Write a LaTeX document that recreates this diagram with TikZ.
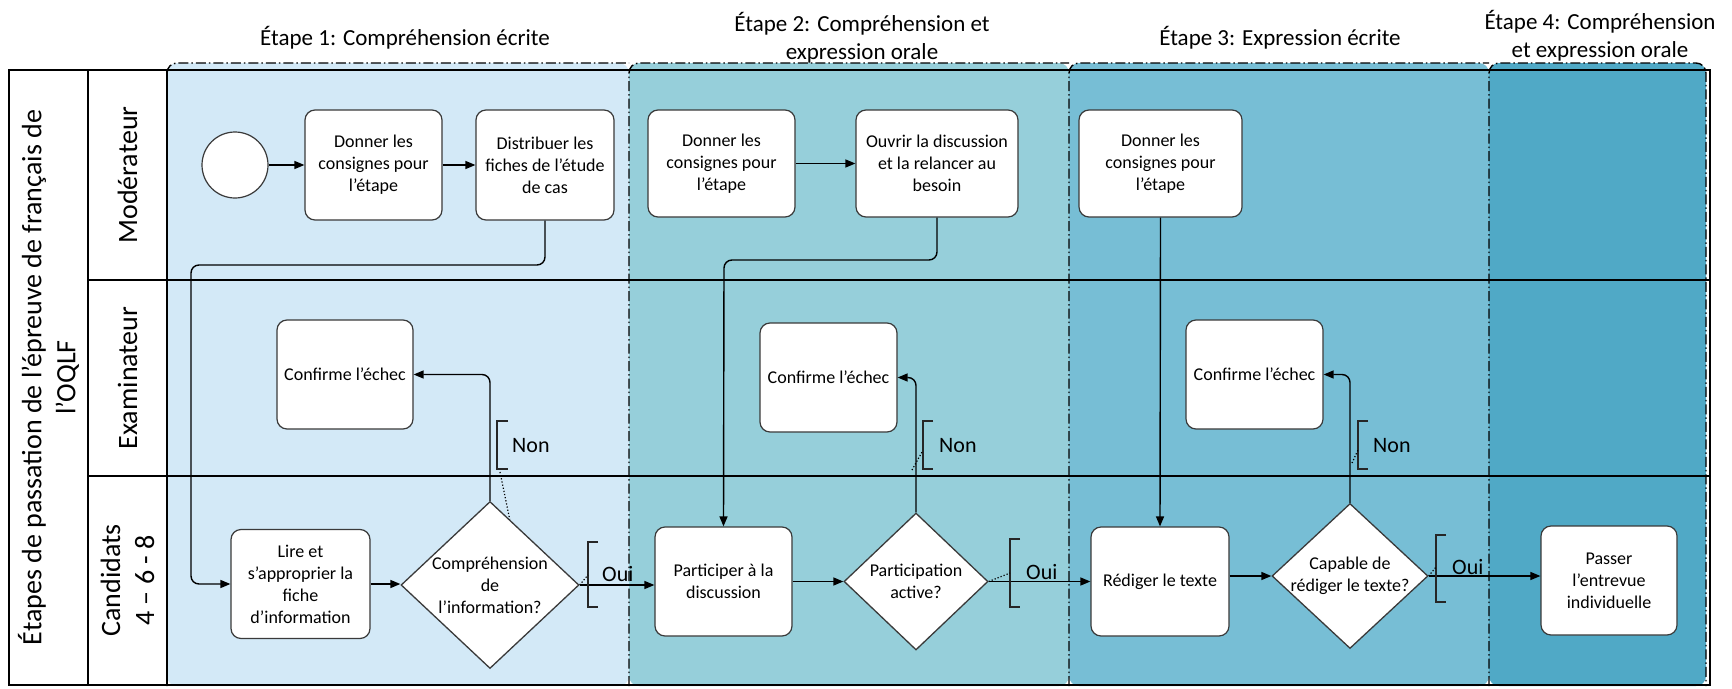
\documentclass[tikz,border=0pt]{standalone}
\usepackage{fontspec}
\setmainfont{Carlito}
\usetikzlibrary{arrows.meta,shapes.geometric,calc}
\definecolor{stA}{HTML}{D3E9F7}
\definecolor{stB}{HTML}{96CFDA}
\definecolor{stC}{HTML}{77BED5}
\definecolor{stD}{HTML}{50A9C6}
\definecolor{edgegray}{HTML}{3A3A3A}
\begin{document}
\begin{tikzpicture}[x=1pt,y=-1pt,
  stagebg/.style={rounded corners=10pt},
  stageline/.style={draw=black, line width=1.4pt, dash pattern=on 10pt off 3pt on 1.5pt off 3pt, rounded corners=10pt},
  frameline/.style={line width=2pt, draw=black},
  task/.style={draw=edgegray, line width=1.2pt, fill=white, rounded corners=10pt, align=center, inner sep=2pt, text=black, font=\fontsize{18pt}{22pt}\selectfont},
  gate/.style={draw=edgegray, line width=1.3pt, fill=white, shape=diamond, inner sep=0pt},
  gatetxt/.style={align=center, text=black, font=\fontsize{18pt}{22pt}\selectfont},
  flow/.style={line width=1.4pt, -{Triangle[length=10pt,width=8pt]}, rounded corners=8pt},
  ann/.style={line width=1.4pt, draw=black!85},
  assoc/.style={line width=1.2pt, dotted},
  lbl/.style={anchor=west, inner sep=0pt, font=\fontsize{22pt}{26pt}\selectfont},
  lane/.style={rotate=90, align=center, font=\fontsize{28pt}{34pt}\selectfont},
  stitle/.style={align=center, font=\fontsize{23pt}{28pt}\selectfont}
]
\useasboundingbox (0,0) rectangle (1732,688);

% stage backgrounds
\fill[stA, stagebg] (167,63) rectangle (629,686);
\fill[stB, stagebg] (629,63) rectangle (1069,686);
\fill[stC, stagebg] (1069,63) rectangle (1489,686);
\fill[stD, stagebg] (1489,63) rectangle (1706,686);
\draw[stageline] (167,686) -- (167,63) -- (629,63);
\draw[stageline] (629,686) -- (629,63) -- (1069,63);
\draw[stageline] (1069,686) -- (1069,63) -- (1489,63);
\draw[stageline] (1489,686) -- (1489,63) -- (1706,63) -- (1706,686);

% frame
\fill[white] (9,70) rectangle (167,685);
\draw[frameline] (9,70) rectangle (1710,685);
\draw[frameline] (88,70) -- (88,685);
\draw[frameline] (167,70) -- (167,685);
\draw[frameline] (88,280) -- (1710,280);
\draw[frameline] (88,476) -- (1710,476);

% titles
\node[lane] (ttl) at (48.5,377.5) {Étapes de passation de l’épreuve de français de\\l’OQLF};
\node[lane] (lmod) at (127.5,175) {Modérateur};
\node[lane] (lexa) at (127.5,378) {Examinateur};
\node[lane] (lcan) at (127.5,580.5) {Candidats\\4 – 6 - 8};
\node[stitle] (t1) at (405,38) {Étape 1: Compréhension écrite};
\node[stitle] (t2) at (862,38) {Étape 2: Compréhension et\\expression orale};
\node[stitle] (t3) at (1280,38) {Étape 3: Expression écrite};
\node[stitle] (t4) at (1600,36) {Étape 4: Compréhension\\et expression orale};

% Moderateur lane
\node[draw=edgegray, line width=1.2pt, fill=white, circle, minimum size=66pt, inner sep=0pt] (start) at (235,165) {};
\node[task, minimum width=137pt, minimum height=110pt] (d1) at (373.5,165) {Donner les\\consignes pour\\l’étape};
\node[task, minimum width=138pt, minimum height=110pt] (dist) at (545,165) {Distribuer les\\fiches de l’étude\\de cas};
\node[task, minimum width=147pt, minimum height=107pt] (d2) at (721.5,163.5) {Donner les\\consignes pour\\l’étape};
\node[task, minimum width=162pt, minimum height=107pt] (ouvrir) at (937,163.5) {Ouvrir la discussion\\et la relancer au\\besoin};
\node[task, minimum width=163pt, minimum height=107pt] (d3) at (1160.5,163.5) {Donner les\\consignes pour\\l’étape};

% Examinateur lane
\node[task, minimum width=136pt, minimum height=109pt] (conf1) at (345,374.5) {Confirme l’échec};
\node[task, minimum width=137pt, minimum height=109pt] (conf2) at (828.5,377.5) {Confirme l’échec};
\node[task, minimum width=137pt, minimum height=109pt] (conf3) at (1254.5,374.5) {Confirme l’échec};

% Candidats lane
\node[task, minimum width=139pt, minimum height=109pt] (lire) at (300.5,584) {Lire et\\s’approprier la\\fiche\\d’information};
\node[gate, minimum width=178pt, minimum height=167pt] (q1) at (490,585) {};
\node[gatetxt] (q1t) at (q1) {Compréhension\\de\\l’information?};
\node[task, minimum width=137pt, minimum height=109pt] (part) at (723.5,581.5) {Participer à la\\discussion};
\node[gate, minimum width=144pt, minimum height=137pt] (q2) at (916,581.5) {};
\node[gatetxt] (q2t) at (q2) {Participation\\active?};
\node[task, minimum width=138pt, minimum height=109pt] (red) at (1160,581.5) {Rédiger le texte};
\node[gate, minimum width=156pt, minimum height=145pt] (q3) at (1350,576) {};
\node[gatetxt] (q3t) at (q3) {Capable de\\rédiger le texte?};
\node[task, minimum width=136pt, minimum height=109pt] (passer) at (1609,580.5) {Passer\\l’entrevue\\individuelle};

% connectors
\coordinate (c1) at (191,265);
\coordinate (c2) at (724,260);
\draw[flow] (start) -- (d1);
\draw[flow] (d1) -- (dist);
\draw[flow] (dist.south) |- (c1) |- (lire.west);
\draw[flow] (lire.east) -- (lire.east -| q1.west);
\draw[flow] (q1.north) |- (conf1.east);
\draw[flow] (q1.east) -- (q1.east -| part.west);
\draw[flow] (d2) -- (ouvrir);
\draw[flow] (ouvrir.south) |- (c2) -- (part.north);
\draw[flow] (part) -- (q2);
\draw[flow] (q2.north) |- (conf2.east);
\draw[flow] (q2.east) -- (q2.east -| red.west);
\draw[flow] (d3.south) -- (red.north);
\draw[flow] (q3.west -| red.east) -- (q3.west);
\draw[flow] (q3.north) |- (conf3.east);
\draw[flow] (q3.east) -- (q3.east -| passer.west);

% annotations
\draw[ann] (508,421) -- (497,421) -- (497,469) -- (508,469);
\node[lbl] (non1) at (512,446) {Non};
\draw[ann] (933,421) -- (923,421) -- (923,469) -- (933,469);
\node[lbl] (non2) at (939,446) {Non};
\draw[ann] (1368,421) -- (1358,421) -- (1358,469) -- (1368,469);
\node[lbl] (non3) at (1373,446) {Non};
\draw[ann] (598,542) -- (588,542) -- (588,607) -- (598,607);
\node[lbl] (oui1) at (602,574) {Oui};
\draw[ann] (1020,539) -- (1010,539) -- (1010,607) -- (1020,607);
\node[lbl] (oui2) at (1026,572) {Oui};
\draw[ann] (1446,535) -- (1436,535) -- (1436,602) -- (1446,602);
\node[lbl] (oui3) at (1452,567) {Oui};
\draw[assoc] (500,472) -- ($(q1.north)!0.22!(q1.east)$);
\draw[assoc] (912,470) -- (922,452);
\draw[assoc] (1352,463) -- (1358,450);
\draw[assoc] (q1.east) -- (588,575);
\draw[assoc] (q2.east) -- (1010,573);
\draw[assoc] (q3.east) -- (1436,567);
\end{tikzpicture}
\end{document}
